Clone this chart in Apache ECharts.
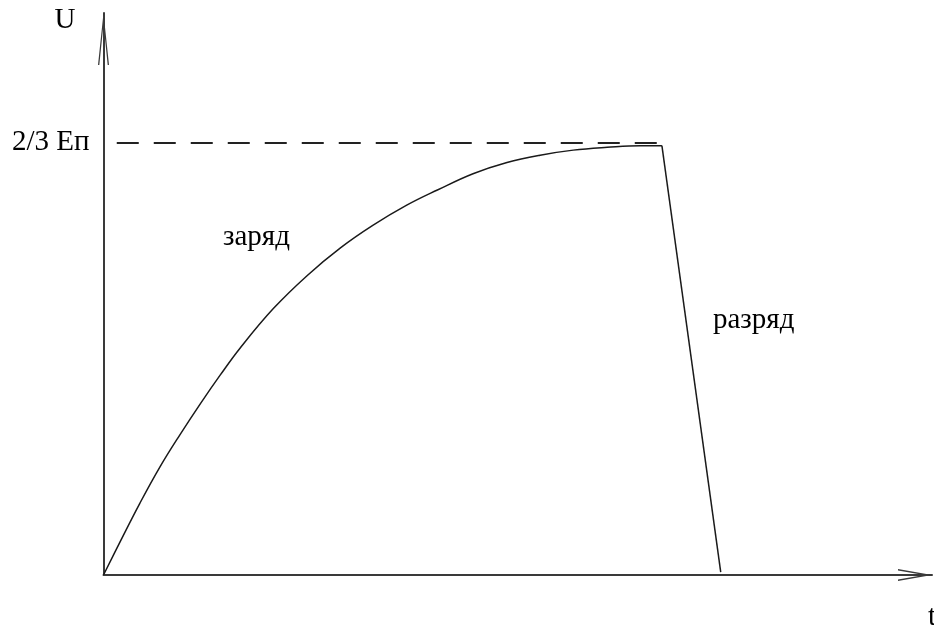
<!DOCTYPE html>
<html>
<head>
<meta charset="utf-8">
<script src="https://cdn.jsdelivr.net/npm/echarts@6/dist/echarts.min.js"></script>
<style>html,body{margin:0;padding:0;background:#fff;}#c{width:934px;height:630px;}</style>
</head>
<body>
<div id="c"></div>
<script>
// Data (time axis 0..100, voltage axis 0..100, arbitrary units)
const chargeT = [0, 2.0, 4.4, 6.8, 9.2, 11.7, 14.1, 16.5, 20.5, 24.6, 28.6, 32.5, 36.6, 40.3, 44.6, 48.7, 52.7, 56.7, 60.8, 64.8, 67.4];
const chargeU = [0, 5.9, 12.8, 19.2, 24.9, 30.5, 35.6, 40.4, 47.4, 53.3, 58.2, 62.2, 65.8, 68.5, 71.4, 73.4, 74.7, 75.6, 76.1, 76.4, 76.4];
const dischargeT = [67.4, 74.5];
const dischargeU = [76.4, 0.5];
const levelU = 76.9;              // 2/3 Eп level
const levelRange = [1.6, 67.4];   // extent of dashed level line
const levelLabel = '2/3 Eп';
const axisNames = {x: 't', y: 'U'};
const notes = [{text: 'заряд'}, {text: 'разряд'}];

const FONT = "'Liberation Serif', 'Times New Roman', serif";
const arrowPathY = 'path://M55,0 L110,520 L97,520 L55,110 L13,520 L0,520 Z';
const arrowPathX = 'path://M60,0 L120,340 L106,340 L60,80 L14,340 L0,340 Z';

const chart = echarts.init(document.getElementById('c'));
chart.setOption({
  animation: false,
  backgroundColor: '#fff',
  grid: {left: 103.5, right: 2, top: 13, bottom: 55, containLabel: false, outerBoundsMode: 'none'},
  xAxis: {
    type: 'value', min: 0, max: 100,
    name: axisNames.x, nameLocation: 'end', nameGap: -4,
    nameTextStyle: {fontFamily: FONT, fontSize: 29, color: '#000', align: 'left', verticalAlign: 'top', padding: [28, 0, 0, 0]},
    axisLine: {show: true, lineStyle: {color: '#3a3a3a', width: 2},
      symbol: ['none', arrowPathX], symbolSize: [12, 34], symbolOffset: [0, -17]},
    axisTick: {show: false}, axisLabel: {show: false}, splitLine: {show: false}
  },
  yAxis: {
    type: 'value', min: 0, max: 100,
    name: axisNames.y, nameLocation: 'end', nameGap: 7,
    nameTextStyle: {fontFamily: FONT, fontSize: 29, color: '#000', align: 'right', verticalAlign: 'top', padding: [0, 28, 0, 0]},
    axisLine: {show: true, lineStyle: {color: '#3a3a3a', width: 2},
      symbol: ['none', arrowPathY], symbolSize: [11, 52], symbolOffset: [0, -26]},
    axisTick: {show: false},
    axisLabel: {show: true, customValues: [levelU], formatter: () => levelLabel,
      margin: 14, fontFamily: FONT, fontSize: 29, color: '#000'},
    splitLine: {show: false}
  },
  series: [
    {
      name: 'заряд', type: 'line', smooth: 0.4, symbol: 'none',
      lineStyle: {color: '#1a1a1a', width: 1.5},
      data: chargeT.map((t, i) => [t, chargeU[i]]),
      markLine: {
        silent: true, symbol: ['none', 'none'], label: {show: false},
        lineStyle: {type: [22, 15], width: 2, color: '#222'},
        data: [[{coord: [levelRange[0], levelU]}, {coord: [levelRange[1], levelU]}]]
      }
    },
    {
      name: 'разряд', type: 'line', symbol: 'none',
      lineStyle: {color: '#1a1a1a', width: 1.5},
      data: dischargeT.map((t, i) => [t, dischargeU[i]])
    }
  ],
  graphic: [
    {type: 'text', left: 223, top: 223, style: {text: notes[0].text, font: '29px ' + FONT, fill: '#000'}},
    {type: 'text', left: 713, top: 306, style: {text: notes[1].text, font: '29px ' + FONT, fill: '#000'}}
  ]
});
</script>
</body>
</html>
